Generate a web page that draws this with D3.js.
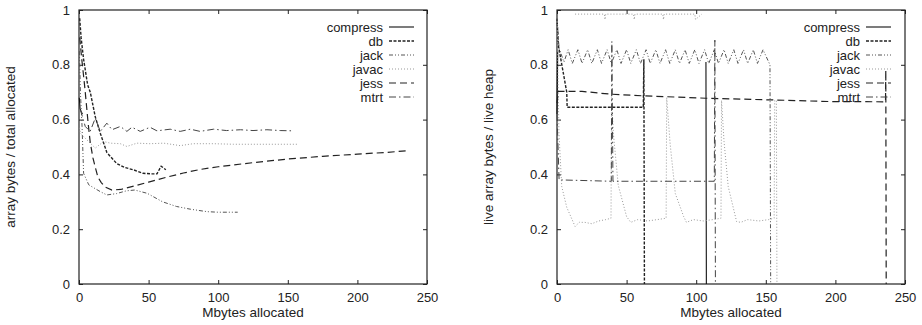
<!DOCTYPE html>
<html>
<head>
<meta charset="utf-8">
<script src="https://cdn.jsdelivr.net/npm/d3@7"></script>
<style>
  body { margin: 0; background: #fff; }
  text { font-family: "Liberation Sans", Arial, sans-serif; fill: #222; }
  .axis path { display: none; }
  .axis line { stroke: #222; }
</style>
</head>
<body>
<div class="chart"></div>
<script>
const names = ["compress", "db", "jack", "javac", "jess", "mtrt"];
const xTicks = [0, 50, 100, 150, 200, 250];
const yTicks = [0, 0.2, 0.4, 0.6, 0.8, 1];
const yTickLabels = ["0", "0.2", "0.4", "0.6", "0.8", "1"];

// left panel: array bytes / total allocated  [Mbytes, ratio]
const leftCompress = [[0.2, 0.68], [0.8, 0.64], [1.5, 0.63], [2.5, 0.62]];
const leftDb = [[0.5, 0.97], [1.5, 0.9], [3.3, 0.82], [6.2, 0.727], [8.1, 0.7], [11.7, 0.61], [15.3, 0.55], [20, 0.48], [27, 0.44], [33, 0.425], [39, 0.417], [46, 0.404], [52, 0.402], [56, 0.402], [59, 0.43], [62.4, 0.417]];
const leftJack = [[0.3, 0.85], [1, 0.7], [2.2, 0.575], [3.3, 0.404], [7, 0.362], [15.3, 0.337], [20, 0.325], [27, 0.33], [34, 0.34], [40, 0.343], [49, 0.331], [60, 0.3], [70, 0.283], [80, 0.273], [92, 0.264], [100, 0.262], [114, 0.262]];
const leftJavac = [[0.5, 0.57], [1, 0.55], [5.7, 0.526], [11.7, 0.496], [17.7, 0.52], [22.5, 0.514], [29.7, 0.512], [34.4, 0.502], [41.6, 0.514], [51, 0.512], [60.8, 0.514], [72.7, 0.505], [82, 0.512], [96.7, 0.512], [111, 0.51], [125, 0.51], [140, 0.51], [157.7, 0.51]];
const leftJess = [[0.5, 0.9], [2, 0.82], [3.5, 0.75], [4.5, 0.7], [6.5, 0.59], [8, 0.52], [10, 0.46], [12, 0.42], [13.6, 0.39], [16, 0.37], [18.7, 0.354], [23.7, 0.343], [30, 0.345], [40, 0.358], [50, 0.372], [63, 0.39], [75, 0.405], [87, 0.418], [100, 0.428], [125, 0.443], [150, 0.456], [175, 0.466], [200, 0.474], [220, 0.48], [235, 0.486]];
const leftMtrt = [[1, 0.636], [4.5, 0.575], [8, 0.557], [11.7, 0.605], [15.3, 0.557], [20, 0.587], [23.7, 0.563], [29.7, 0.575], [34.4, 0.557], [38, 0.572], [44, 0.557], [51, 0.572], [56, 0.559], [65.5, 0.565], [72.7, 0.557], [80, 0.565], [87, 0.557], [96.7, 0.565], [106, 0.56], [116, 0.563], [125, 0.56], [135, 0.563], [144.5, 0.56], [153.6, 0.559]];

// right panel: live array bytes / live heap  (null = gap)
const rightCompress = [[0, 0.62], [0.5, 0.85], null, [107, 0.81], [107.3, 0]];
const rightDb = [[0, 0.97], [1, 0.87], [7, 0.7], [7.3, 0.645], [62, 0.645], [62.4, 0.82], [62.8, 0]];
const rightJack = [[0, 0.97], [1.5, 0.86], [5, 0.81], [8, 0.855], [11, 0.805], [15, 0.855], [18, 0.805], [22, 0.855], [25, 0.805], [29, 0.855], [32, 0.805], [36, 0.855], [39, 0.805], [43, 0.855], [46, 0.805], [50, 0.855], [53, 0.805], [57, 0.855], [60, 0.805], [64, 0.855], [67, 0.805], [71, 0.855], [74, 0.805], [78, 0.855], [81, 0.805], [85, 0.855], [88, 0.805], [92, 0.855], [95, 0.805], [99, 0.855], [102, 0.805], [106, 0.855], [109, 0.805], [113, 0.855], [116, 0.805], [120, 0.855], [123, 0.805], [127, 0.855], [130, 0.805], [134, 0.855], [137, 0.805], [141, 0.855], [144, 0.805], [148, 0.855], [153, 0.8], [153.5, 0]];
const rightJavac = [[13, 0.985], [34, 0.985], [34.5, 0.965], [35, 0.985], [55, 0.985], [55.5, 0.965], [56, 0.985], [76, 0.985], [76.5, 0.965], [77, 0.985], [99, 0.985], [99.5, 0.965], [104, 0.985], null,
  [0, 0.97], [1.4, 0.55], [3.4, 0.356], [7, 0.28], [13, 0.21], [16, 0.225], [20, 0.225], [25, 0.22], [30, 0.23], [35, 0.235], [38.8, 0.24], [39.2, 0.68], [40.5, 0.55], [44, 0.36], [50, 0.246], [53, 0.225], [58, 0.235], [65, 0.23], [72, 0.235], [78.4, 0.24], [78.8, 0.68], [81.3, 0.51], [85, 0.33], [91, 0.246], [93, 0.225], [98, 0.235], [105, 0.23], [112, 0.235], [117.8, 0.24], [118.2, 0.67], [120, 0.52], [123, 0.356], [129, 0.228], [132, 0.225], [137, 0.235], [145, 0.23], [152, 0.235], [156, 0.24], [156.4, 0.67], [157.6, 0.67], [158, 0]];
const rightJess = [[0, 0.66], [1, 0.703], [18, 0.703], [38, 0.693], [61, 0.687], [107, 0.678], [153, 0.672], [195, 0.666], [236, 0.665], [236.2, 0.78], [236.5, 0]];
const rightMtrt = [[0, 0.62], [1.5, 0.38], [39, 0.375], [39.4, 0.885], [40.2, 0.375], [113, 0.375], [113.4, 0.89], [113.8, 0]];

const leftSeries = [leftCompress, leftDb, leftJack, leftJavac, leftJess, leftMtrt];
const rightSeries = [rightCompress, rightDb, rightJack, rightJavac, rightJess, rightMtrt];

const styles = [
  { stroke: "#111", dash: null, w: 1.1 },
  { stroke: "#222", dash: "3,1.5", w: 1.4 },
  { stroke: "#555", dash: "4,2,1,2,1,2", w: 1 },
  { stroke: "#999", dash: "1,2", w: 1 },
  { stroke: "#222", dash: "7,4", w: 1.2 },
  { stroke: "#444", dash: "7,3,1.5,3", w: 1 }
];

const W = 922, H = 325;
const svg = d3.select(".chart").append("svg")
  .attr("width", W)
  .attr("height", H);

function drawPanel(left, right, series, yTitle, legendX) {
  const top = 10, bottom = 284;
  const x = d3.scaleLinear().domain([0, 250]).range([left, right]);
  const y = d3.scaleLinear().domain([0, 1]).range([bottom, top]);
  const g = svg.append("g");

  // ticks inside on all four sides
  g.append("g").attr("class", "axis").attr("transform", `translate(0,${bottom})`)
    .call(d3.axisBottom(x).tickValues(xTicks).tickSize(-4).tickPadding(9).tickFormat(d3.format("d")))
    .selectAll("text").style("font-size", "13px");
  g.append("g").attr("class", "axis").attr("transform", `translate(0,${top})`)
    .call(d3.axisTop(x).tickValues(xTicks).tickSize(-4).tickFormat(""));
  g.append("g").attr("class", "axis").attr("transform", `translate(${left},0)`)
    .call(d3.axisLeft(y).tickValues(yTicks).tickSize(-4).tickPadding(9).tickFormat((d, i) => yTickLabels[i]))
    .selectAll("text").style("font-size", "13px");
  g.append("g").attr("class", "axis").attr("transform", `translate(${right},0)`)
    .call(d3.axisRight(y).tickValues(yTicks).tickSize(-4).tickFormat(""));

  g.append("rect")
    .attr("x", left).attr("y", top)
    .attr("width", right - left).attr("height", bottom - top)
    .attr("fill", "none").attr("stroke", "#222").attr("stroke-width", 1.2);

  const line = d3.line()
    .defined(d => d !== null)
    .x(d => x(d[0]))
    .y(d => y(d[1]));

  series.forEach((s, i) => {
    g.append("path")
      .datum(s)
      .attr("d", line)
      .attr("fill", "none")
      .attr("stroke", styles[i].stroke)
      .attr("stroke-width", styles[i].w)
      .attr("stroke-dasharray", styles[i].dash);
  });

  // legend
  const leg = g.append("g");
  names.forEach((n, i) => {
    const ly = 27 + i * 14;
    leg.append("text")
      .attr("x", legendX).attr("y", ly + 4.5)
      .attr("text-anchor", "end")
      .style("font-size", "13px")
      .text(n);
    leg.append("line")
      .attr("x1", legendX + 6).attr("x2", legendX + 31)
      .attr("y1", ly).attr("y2", ly)
      .attr("stroke", styles[i].stroke)
      .attr("stroke-width", styles[i].w)
      .attr("stroke-dasharray", styles[i].dash);
  });

  g.append("text")
    .attr("x", (left + right) / 2).attr("y", 317)
    .attr("text-anchor", "middle")
    .style("font-size", "13.5px")
    .text("Mbytes allocated");

  g.append("text")
    .attr("transform", `translate(${left - 64},${(top + bottom) / 2}) rotate(-90)`)
    .attr("text-anchor", "middle")
    .style("font-size", "13.5px")
    .text(yTitle);
}

drawPanel(79, 427, leftSeries, "array bytes / total allocated", 383);
drawPanel(557, 905, rightSeries, "live array bytes / live heap", 860);
</script>
</body>
</html>
